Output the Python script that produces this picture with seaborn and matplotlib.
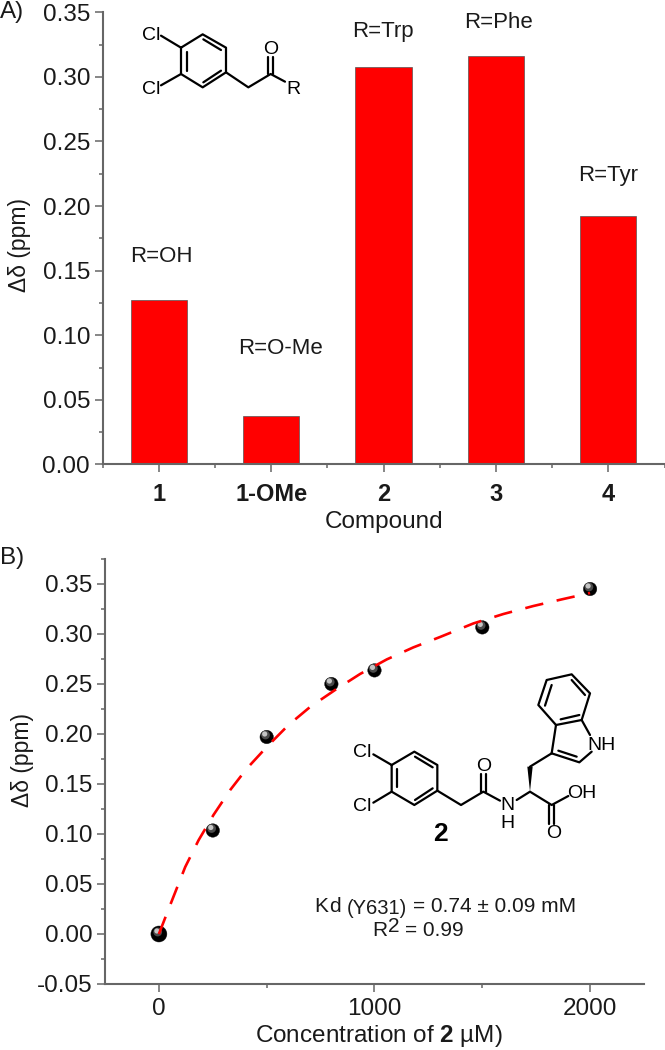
import matplotlib
matplotlib.use("Agg")
import matplotlib.pyplot as plt
import seaborn as sns
from matplotlib.ticker import MultipleLocator, FixedLocator, FormatStrFormatter
from matplotlib.transforms import ScaledTranslation

compounds = ["1", "1-OMe", "2", "3", "4"]
delta_bar = [0.1275, 0.0376, 0.3074, 0.3160, 0.1926]
r_labels = ["R=OH", "R=O-Me", "R=Trp", "R=Phe", "R=Tyr"]

conc_pts = [0, 250, 500, 800, 1000, 1500, 2000]
delta_pts = [0.000, 0.1035, 0.197, 0.250, 0.2636, 0.3066, 0.345]
point_sizes = [133, 94, 94, 94, 94, 94, 94]

conc_fit = [0, 52, 122, 184, 253, 330, 408, 500, 601, 701, 817, 933, 1057,
            1180, 1304, 1459, 1598, 1737, 1868, 2000]
delta_fit = [0.000, 0.0288, 0.067, 0.0938, 0.119, 0.1438, 0.1655, 0.187, 0.209,
             0.227, 0.244, 0.260, 0.2746, 0.2866, 0.297, 0.3106, 0.320, 0.328,
             0.3346, 0.341]

W, H = 665, 1050
sns.set_theme(style="ticks")
plt.rcParams["font.family"] = ["Liberation Sans", "DejaVu Sans"]
plt.rcParams["axes.unicode_minus"] = False
plt.rcParams["mathtext.fontset"] = "custom"
plt.rcParams["mathtext.rm"] = "Liberation Sans"
plt.rcParams["mathtext.bf"] = "Liberation Sans:bold"

GRAY = "#666666"
TXT = "#1a1a1a"
FS = 17.5


def px_axes(fig, left, top, right, bottom):
    return fig.add_axes([left / W, 1 - bottom / H, (right - left) / W, (bottom - top) / H])


def style(ax):
    for s in ("top", "right"):
        ax.spines[s].set_visible(False)
    for s in ("left", "bottom"):
        ax.spines[s].set_color(GRAY)
        ax.spines[s].set_linewidth(1.5)
    ax.tick_params(which="major", length=6, width=1.1, color=GRAY, pad=3,
                   labelsize=FS, labelcolor=TXT)
    ax.tick_params(which="minor", length=3.2, width=1.1, color=GRAY)
    ax.patch.set_alpha(0)


fig = plt.figure(figsize=(W / 100, H / 100), dpi=100, facecolor="white")

# Panel A
ax1 = px_axes(fig, 102.5, 12.3, 664.6, 464.5)
sns.barplot(x=compounds, y=delta_bar, color="#ff0000", saturation=1, width=0.5,
            edgecolor="#555555", linewidth=0.5, ax=ax1)
ax1.set_xlim(-0.5, 4.5)
ax1.set_ylim(0, 0.35)
style(ax1)
ax1.yaxis.set_major_locator(MultipleLocator(0.05))
ax1.yaxis.set_minor_locator(MultipleLocator(0.025))
ax1.yaxis.set_major_formatter(FormatStrFormatter("%.2f"))
ax1.xaxis.set_minor_locator(FixedLocator([-0.5, 0.5, 1.5, 2.5, 3.5, 4.5]))
ax1.tick_params(axis="x", which="major", pad=7)
for t in ax1.get_xticklabels():
    t.set_fontweight("bold")
    t.set_fontsize(17)
ax1.set_xlabel("")
ax1.set_ylabel("")

# Panel B
ax2 = px_axes(fig, 105, 559, 644, 984)
sns.scatterplot(x=conc_pts, y=delta_pts, size=point_sizes, sizes=(94, 133), legend=False,
                color="black", edgecolor="#111111", linewidth=0.3, ax=ax2, zorder=3)
shift1 = ScaledTranslation(-1.2 / 100, 2.0 / 100, fig.dpi_scale_trans)
shift2 = ScaledTranslation(-2.0 / 100, 3.0 / 100, fig.dpi_scale_trans)
sns.scatterplot(x=conc_pts, y=delta_pts, s=40, color="#4a4a4a", edgecolor="none",
                ax=ax2, zorder=3.1, transform=ax2.transData + shift1)
sns.scatterplot(x=conc_pts, y=delta_pts, s=14, color="#c4c4c4", edgecolor="none",
                ax=ax2, zorder=3.2, transform=ax2.transData + shift2)
sns.lineplot(x=conc_fit, y=delta_fit, color="#ff0000", lw=1.9, ax=ax2, zorder=5,
             estimator=None, sort=False, dashes=False, linestyle=(0, (7, 5.2)))
ax2.set_xlim(-250, 2250)
ax2.set_ylim(-0.05, 0.375)
style(ax2)
ax2.yaxis.set_major_locator(FixedLocator([-0.05, 0, 0.05, 0.10, 0.15, 0.20, 0.25, 0.30, 0.35]))
ax2.yaxis.set_minor_locator(FixedLocator([-0.025, 0.025, 0.075, 0.125, 0.175, 0.225, 0.275, 0.325, 0.375]))
ax2.yaxis.set_major_formatter(FormatStrFormatter("%.2f"))
ax2.xaxis.set_major_locator(FixedLocator([0, 1000, 2000]))
ax2.xaxis.set_minor_locator(FixedLocator([500, 1500]))
ax2.tick_params(axis="x", which="major", pad=4)
ax2.set_xlabel("")
ax2.set_ylabel("")

# Overlay in reference pixel coordinates: labels and chemical structures
ov = fig.add_axes([0, 0, 1, 1], zorder=10)
ov.set_xlim(0, W)
ov.set_ylim(H, 0)
ov.axis("off")


def txt(x, y, s, size=FS, ha="center", va="center", **kw):
    kw.setdefault("color", TXT)
    ov.text(x, y, s, fontsize=size, ha=ha, va=va, **kw)


def bonds(segs, mapper, lw=1.6):
    for seg in segs:
        xs, ys = zip(*[mapper(*p) for p in seg])
        ov.plot(xs, ys, color="black", lw=lw, solid_capstyle="round", solid_joinstyle="round")


txt(0, 12, "A)", ha="left")
txt(0, 558, "B)", ha="left")
txt(384, 522, "Compound")
txt(379, 1036, "Concentration of $\\mathbf{2}$ µM)")
txt(20, 245, "Δδ (ppm)", size=16.5, rotation=90)
txt(22, 760, "Δδ (ppm)", size=16.5, rotation=90)

r_positions = [(161, 256), (280, 349), (383, 31), (499, 22), (608, 176)]
for (x, y), label in zip(r_positions, r_labels):
    txt(x, y, label, size=16)

# Structure above panel A
a = lambda x, y: (x / 3, y / 3)
bonds([
    [(543, 143), (608, 103), (678, 143), (678, 217), (608, 262), (543, 222), (543, 143)],
    [(560, 155), (560, 212)], [(610, 118), (663, 150)], [(610, 247), (663, 212)],
    [(543, 143), (483, 107)], [(543, 222), (483, 256)],
    [(678, 217), (745, 262), (812, 222), (855, 245)],
    [(805, 222), (805, 172)], [(820, 222), (820, 172)],
], a)
for (x, y), s in zip([(455, 107), (455, 268), (812, 148), (880, 268)], ["Cl", "Cl", "O", "R"]):
    px, py = a(x, y)
    txt(px, py, s, size=14, color="black")

# Structure in panel B
b = lambda x, y: (320 + x / 3, 660 + y / 3)
bonds([
    [(215, 315), (283, 275), (352, 315), (352, 392), (283, 435), (215, 395), (215, 315)],
    [(232, 328), (232, 382)], [(285, 290), (338, 322)], [(285, 420), (338, 385)],
    [(215, 315), (160, 283)], [(215, 395), (160, 428)],
    [(352, 392), (423, 435), (490, 395), (540, 422)],
    [(483, 395), (483, 342)], [(497, 395), (497, 342)],
    [(590, 420), (630, 395), (695, 435), (745, 408)],
    [(688, 435), (688, 492)], [(702, 435), (702, 492)],
    [(630, 320), (695, 280)],
    [(695, 280), (708, 195), (785, 180), (810, 225)],
    [(815, 275), (778, 307), (695, 280)], [(715, 272), (770, 290)],
    [(708, 195), (655, 135), (680, 60), (755, 43), (810, 100), (785, 180)],
    [(675, 137), (695, 75)], [(755, 60), (795, 105)], [(722, 178), (778, 165)],
], b)
wx, wy = zip(*[b(*p) for p in [(630, 395), (622, 320), (638, 320)]])
ov.fill(wx, wy, color="black", lw=0)
for (x, y), s in zip([(128, 278), (128, 440), (562, 437), (562, 490), (490, 320),
                      (785, 400), (700, 520), (845, 255)],
                     ["Cl", "Cl", "N", "H", "O", "OH", "O", "NH"]):
    px, py = b(x, y)
    txt(px, py, s, size=14, color="black")
px, py = b(360, 522)
txt(px, py, "2", size=19, fontweight="bold", color="black")

# Kd annotation
txt(314.5, 912, "K", size=15, ha="left", va="baseline")
txt(329, 912, "d", size=15, ha="left", va="baseline")
txt(346.5, 914, "(Y631)", size=14.5, ha="left", va="baseline")
txt(413, 912, "= 0.74 ± 0.09 mM", size=15, ha="left", va="baseline")
txt(372.5, 936, "R", size=15, ha="left", va="baseline")
txt(388, 932, "2", size=15, ha="left", va="baseline")
txt(405, 936, "= 0.99", size=15, ha="left", va="baseline")

fig.savefig("out.png", dpi=100, facecolor="white")
